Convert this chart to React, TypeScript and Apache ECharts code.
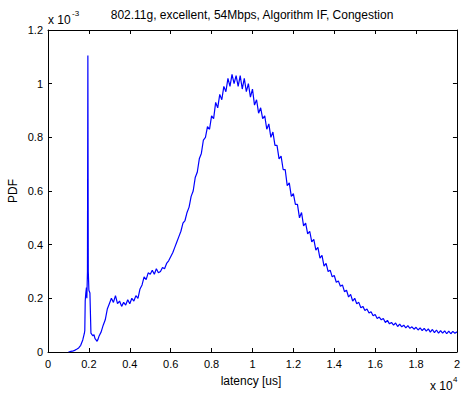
import React, { useEffect, useRef } from "react";
import * as echarts from "echarts";

const TITLE = "802.11g, excellent, 54Mbps, Algorithm IF, Congestion";
const X_LABEL = "latency [us]";
const Y_LABEL = "PDF";

// Early part (latency in us, PDF in units of 1e-3), irregular spacing around the spike
const earlyLatency = [1000, 1100, 1200, 1300, 1400, 1500, 1600, 1700, 1780, 1800, 1820, 1850, 1880, 1900, 1930, 1950, 1970, 2000, 2050, 2100, 2150, 2200, 2250, 2300, 2350, 2400, 2450];
const earlyPdf = [0, 0.002, 0.003, 0.006, 0.01, 0.015, 0.025, 0.045, 0.07, 0.08, 0.19, 0.22, 0.24, 0.2, 0.3, 1.105, 0.3, 0.23, 0.22, 0.07, 0.065, 0.06, 0.065, 0.05, 0.045, 0.04, 0.048];

// Main part: latency from 2500 us to 20000 us, every 100 us
const mainStartUs = 2500;
const mainStepUs = 100;
const mainPdf = [
  0.06, 0.075, 0.1, 0.12, 0.16, 0.18, 0.2, 0.185, 0.21, 0.18,
  0.19, 0.17, 0.185, 0.175, 0.195, 0.18, 0.2, 0.19, 0.21, 0.2,
  0.235, 0.25, 0.28, 0.27, 0.295, 0.29, 0.305, 0.29, 0.31, 0.295,
  0.3, 0.315, 0.31, 0.33, 0.34, 0.355, 0.37, 0.39, 0.41, 0.43,
  0.45, 0.48, 0.49, 0.52, 0.54, 0.58, 0.6, 0.65, 0.67, 0.72,
  0.74, 0.79, 0.8, 0.84, 0.83, 0.88, 0.87, 0.93, 0.91, 0.96,
  0.94, 0.99, 0.97, 1.02, 0.99, 1.035, 1.0, 1.03, 0.99, 1.03,
  0.98, 1.02, 0.97, 1.0, 0.95, 0.98, 0.92, 0.94, 0.89, 0.91,
  0.87, 0.88, 0.83, 0.85, 0.8, 0.82, 0.77, 0.77, 0.72, 0.73,
  0.68, 0.68, 0.62, 0.63, 0.58, 0.59, 0.55, 0.55, 0.5, 0.52,
  0.47, 0.48, 0.44, 0.45, 0.41, 0.42, 0.38, 0.39, 0.35, 0.36,
  0.32, 0.33, 0.3, 0.305, 0.28, 0.285, 0.26, 0.265, 0.245, 0.25,
  0.225, 0.23, 0.205, 0.215, 0.19, 0.2, 0.18, 0.185, 0.165, 0.17,
  0.155, 0.16, 0.145, 0.15, 0.135, 0.14, 0.125, 0.13, 0.12, 0.125,
  0.11, 0.118, 0.105, 0.11, 0.1, 0.108, 0.095, 0.104, 0.094, 0.1,
  0.09, 0.098, 0.088, 0.094, 0.085, 0.092, 0.082, 0.09, 0.08, 0.088,
  0.078, 0.086, 0.074, 0.084, 0.072, 0.082, 0.07, 0.08, 0.07, 0.079,
  0.068, 0.078, 0.068, 0.077, 0.07, 0.075,
];

const X_MIN = 0;
const X_MAX = 20000;
const X_INTERVAL = 2000;
const Y_MIN = 0;
const Y_MAX = 1.2;
const Y_INTERVAL = 0.2;

const FONT = "'Liberation Sans', Arial, Helvetica, sans-serif";

export default function App() {
  const ref = useRef<HTMLDivElement>(null);

  useEffect(() => {
    if (!ref.current) return;
    const chart = echarts.init(ref.current, undefined, { renderer: "svg" });

    const data: [number, number][] = [];
    earlyLatency.forEach((x, i) => data.push([x, earlyPdf[i]]));
    mainPdf.forEach((y, i) => data.push([mainStartUs + i * mainStepUs, y]));

    const gridLeft = 48;
    const gridTop = 30;
    const gridWidth = 409;
    const gridHeight = 322;

    const axisLine = { show: true, onZero: false, lineStyle: { color: "#000", width: 1 } };
    const axisTick = { show: true, inside: true, length: 4, lineStyle: { color: "#000", width: 1 } };
    const labelStyle = { color: "#000", fontSize: 11, fontFamily: FONT };

    chart.setOption({
      animation: false,
      backgroundColor: "#fff",
      grid: { left: gridLeft, top: gridTop, width: gridWidth, height: gridHeight, containLabel: false },
      xAxis: [
        {
          type: "value",
          position: "bottom",
          min: X_MIN,
          max: X_MAX,
          interval: X_INTERVAL,
          axisLine,
          axisTick,
          splitLine: { show: false },
          axisLabel: { ...labelStyle, margin: 6, formatter: (v: number) => String(+(v / 10000).toFixed(1)) },
        },
        {
          type: "value",
          position: "top",
          min: X_MIN,
          max: X_MAX,
          interval: X_INTERVAL,
          axisLine,
          axisTick,
          splitLine: { show: false },
          axisLabel: { show: false },
        },
      ],
      yAxis: [
        {
          type: "value",
          position: "left",
          min: Y_MIN,
          max: Y_MAX,
          interval: Y_INTERVAL,
          axisLine,
          axisTick,
          splitLine: { show: false },
          axisLabel: { ...labelStyle, margin: 5, formatter: (v: number) => String(+v.toFixed(1)) },
        },
        {
          type: "value",
          position: "right",
          min: Y_MIN,
          max: Y_MAX,
          interval: Y_INTERVAL,
          axisLine,
          axisTick,
          splitLine: { show: false },
          axisLabel: { show: false },
        },
      ],
      series: [
        {
          type: "line",
          data,
          xAxisIndex: 0,
          yAxisIndex: 0,
          showSymbol: false,
          symbol: "none",
          lineStyle: { color: "#0000ff", width: 1.2 },
          itemStyle: { color: "#0000ff" },
        },
      ],
      graphic: [
        {
          type: "text",
          x: 252,
          y: 15,
          style: { text: TITLE, fill: "#000", font: `12px ${FONT}`, textAlign: "center", textVerticalAlign: "middle" },
        },
        {
          type: "text",
          x: 251,
          y: 381,
          style: { text: X_LABEL, fill: "#000", font: `12px ${FONT}`, textAlign: "center", textVerticalAlign: "middle" },
        },
        {
          type: "text",
          x: 13,
          y: 191,
          rotation: Math.PI / 2,
          style: { text: Y_LABEL, fill: "#000", font: `12px ${FONT}`, textAlign: "center", textVerticalAlign: "middle" },
        },
        {
          type: "text",
          x: 48,
          y: 20,
          style: { text: "x 10", fill: "#000", font: `12px ${FONT}`, textAlign: "left", textVerticalAlign: "middle" },
        },
        {
          type: "text",
          x: 72,
          y: 13,
          style: { text: "-3", fill: "#000", font: `8px ${FONT}`, textAlign: "left", textVerticalAlign: "middle" },
        },
        {
          type: "text",
          x: 430,
          y: 386,
          style: { text: "x 10", fill: "#000", font: `12px ${FONT}`, textAlign: "left", textVerticalAlign: "middle" },
        },
        {
          type: "text",
          x: 453,
          y: 379,
          style: { text: "4", fill: "#000", font: `8px ${FONT}`, textAlign: "left", textVerticalAlign: "middle" },
        },
      ],
    });

    return () => chart.dispose();
  }, []);

  return <div ref={ref} style={{ width: 463, height: 393, position: "absolute", left: 0, top: 0 }} />;
}
